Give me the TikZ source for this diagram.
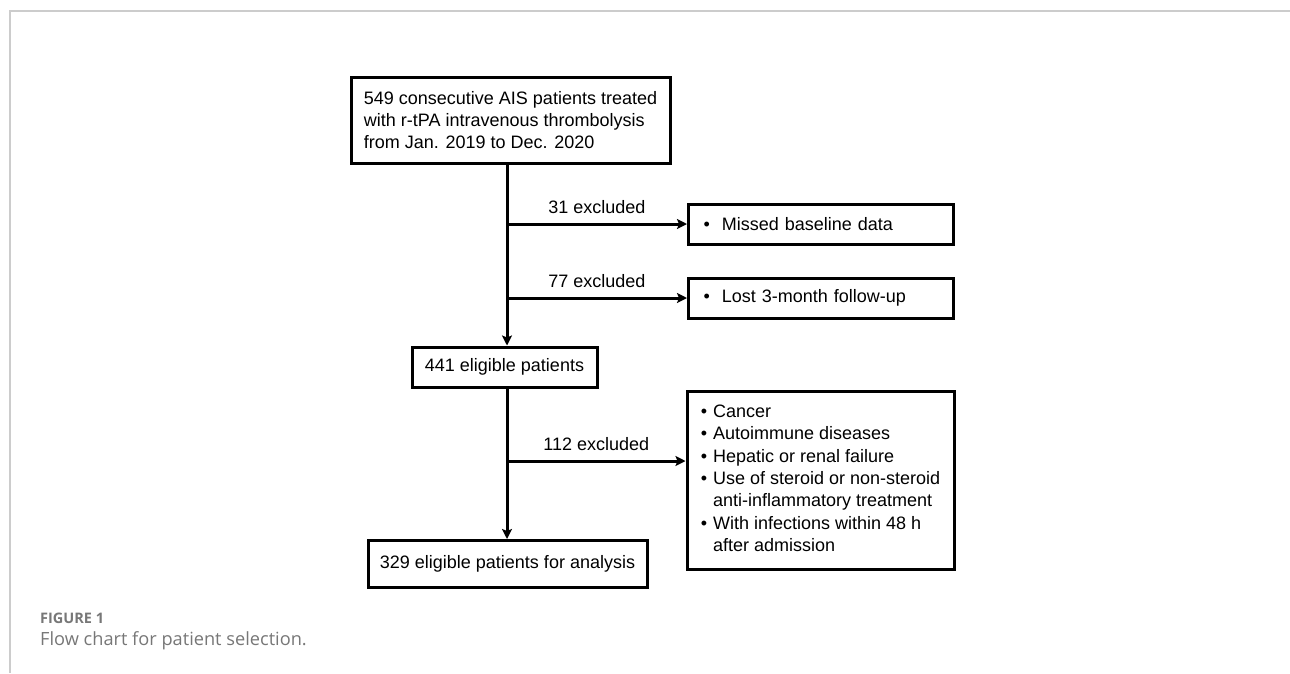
\documentclass[tikz,border=0pt]{standalone}
\usepackage{fontspec}
\setmainfont{Liberation Sans}
\newfontfamily\capfont{Open Sans}
\usetikzlibrary{arrows.meta}
\definecolor{framegray}{HTML}{CCCCCC}
\definecolor{capgray}{HTML}{777777}
\tikzset{
  boxstyle/.style={draw=black, line width=3pt, inner sep=0pt, font=\fontsize{18}{21.7}\selectfont},
  bulletbox/.style={boxstyle, anchor=west, text width=235pt, inner xsep=15pt, align=left, minimum height=40pt},
  arr/.style={line width=3pt, -{Stealth[length=10pt,width=10pt,inset=2pt]}},
  lbl/.style={font=\fontsize{18}{21.7}\selectfont, inner sep=0pt}
}
\begin{document}
\begin{tikzpicture}[x=1pt,y=-1pt]
\useasboundingbox (0,0) rectangle (1290,673);
% frame
\draw[framegray, line width=1.5pt] (10,673) -- (10,11) -- (1290,11);
% trunk coordinate
\coordinate (tx) at (507,0);
% boxes
\node[boxstyle, minimum width=319pt, minimum height=86pt, align=left] (b549) at (510.5,120)
  {549 consecutive AIS patients treated\\with r-tPA intravenous thrombolysis\\from Jan. 2019 to Dec. 2020};
\node[boxstyle, minimum width=185pt, minimum height=40pt] (b441) at (504.5,367) {441 eligible patients};
\node[boxstyle, minimum width=279pt, minimum height=47pt] (b329) at (507.5,564) {329 eligible patients for analysis};
\node[bulletbox] (m1) at (687,224) {\textbullet\ \ Missed baseline data};
\node[bulletbox] (m2) at (687,298) {\textbullet\ \ Lost 3-month follow-up};
\node[boxstyle, minimum width=267pt, minimum height=178pt] (m3) at (820.5,480)
  {\fontsize{18}{22.3}\selectfont\begin{tabular}{@{}l@{\hspace{6pt}}l@{}}
  \textbullet & Cancer\\
  \textbullet & Autoimmune diseases\\
  \textbullet & Hepatic or renal failure\\
  \textbullet & Use of steroid or non-steroid\\
   & anti-inflammatory treatment\\
  \textbullet & With infections within 48 h\\
   & after admission
  \end{tabular}};
% connectors
\draw[arr] (b549.south -| tx) -- (b441.north -| tx);
\draw[arr] (b441.south -| tx) -- (b329.north -| tx);
\draw[arr] (m1.west -| tx) -- node[lbl, midway, above=9pt] {31 excluded} (m1.west);
\draw[arr] (m2.west -| tx) -- node[lbl, midway, above=9pt] {77 excluded} (m2.west);
\coordinate (j3) at (507,461);
\draw[arr] (j3) -- node[lbl, midway, above=9pt] {112 excluded} (m3.west |- j3);
% caption
\node[anchor=west, inner sep=0pt, text=capgray, font=\capfont\fontsize{14.5}{16}\selectfont\bfseries] (fig) at (40,618) {FIGURE 1};
\node[anchor=west, inner sep=0pt, text=capgray, font=\capfont\fontsize{18.2}{20}\selectfont] (cap) at (40,641) {Flow chart for patient selection.};
\end{tikzpicture}
\end{document}
